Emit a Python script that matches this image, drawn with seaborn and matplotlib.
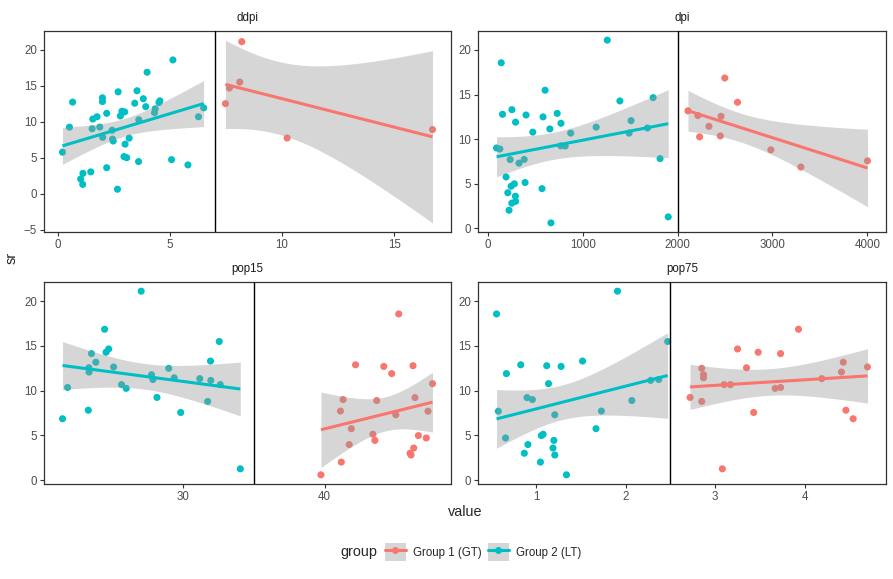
import math
import numpy as np
import pandas as pd
import matplotlib
matplotlib.use("Agg")
import matplotlib.pyplot as plt
import seaborn as sns
from matplotlib.patches import Rectangle
from matplotlib.lines import Line2D
from matplotlib.legend_handler import HandlerTuple

# ---------------- data (LifeCycleSavings) ----------------
sr = [11.43, 12.07, 13.17, 5.75, 12.88, 8.79, 0.60, 11.90, 4.98, 10.78,
      16.85, 3.59, 11.24, 12.64, 12.55, 10.67, 3.01, 7.70, 1.27, 9.00,
      11.34, 14.28, 21.10, 3.98, 10.35, 15.48, 10.25, 14.65, 10.67, 7.30,
      4.44, 2.02, 12.70, 12.78, 12.49, 11.14, 13.30, 11.77, 6.86, 14.13,
      5.13, 2.81, 7.81, 7.56, 9.22, 18.56, 7.72, 9.24, 8.89, 4.71]
pop15 = [29.35, 23.32, 23.80, 41.89, 42.19, 31.72, 39.74, 44.75, 46.64, 47.64,
         24.42, 46.31, 27.84, 25.06, 23.31, 25.62, 46.05, 47.32, 34.03, 41.31,
         31.16, 24.52, 27.01, 41.74, 21.80, 32.54, 25.95, 24.71, 32.61, 45.04,
         43.56, 41.18, 44.19, 46.26, 28.96, 31.94, 31.92, 27.74, 21.44, 23.49,
         43.42, 46.12, 23.27, 29.81, 46.40, 45.25, 41.12, 28.13, 43.69, 47.20]
pop75 = [2.87, 4.41, 4.43, 1.67, 0.83, 2.85, 1.34, 0.67, 1.06, 1.14,
         3.93, 1.19, 2.37, 4.70, 3.35, 3.10, 0.87, 0.58, 3.08, 0.96,
         4.19, 3.48, 1.91, 0.91, 3.73, 2.47, 3.67, 3.25, 3.17, 1.21,
         1.20, 1.05, 1.28, 1.12, 2.85, 2.28, 1.52, 2.87, 4.54, 3.73,
         1.08, 1.21, 4.46, 3.43, 0.90, 0.56, 1.73, 2.72, 2.07, 0.66]
dpi = [2329.68, 1507.99, 2108.47, 189.13, 728.47, 2982.88, 662.86, 289.52, 276.65, 471.24,
       2496.53, 287.77, 1681.25, 2213.82, 2457.12, 870.85, 289.71, 232.44, 1900.10, 88.94,
       1139.95, 1390.00, 1257.28, 207.68, 2449.39, 601.05, 2231.03, 1740.70, 1487.52, 325.54,
       568.56, 220.56, 400.06, 152.01, 579.51, 651.11, 250.96, 768.79, 3299.49, 2630.96,
       389.66, 249.87, 1813.93, 4001.89, 813.39, 138.33, 380.47, 766.54, 123.58, 242.69]
ddpi = [2.87, 3.93, 3.82, 0.22, 4.56, 2.43, 2.67, 6.51, 3.08, 2.80,
        3.99, 2.19, 4.32, 4.52, 3.44, 6.28, 1.48, 3.19, 1.12, 1.54,
        2.99, 3.54, 8.21, 5.81, 1.57, 8.12, 3.62, 7.66, 1.76, 2.48,
        3.61, 1.03, 0.67, 2.00, 7.48, 2.19, 2.00, 4.35, 3.01, 2.70,
        2.96, 1.13, 2.01, 2.45, 0.53, 5.14, 10.23, 1.88, 16.71, 5.08]

variables = ["ddpi", "dpi", "pop15", "pop75"]
thresholds = [7, 2000, 35, 2.5]
group_labels = ["Group 1 (GT)", "Group 2 (LT)"]
group_colors = ["#F8766D", "#00BFC4"]
x_ticks = {"ddpi": [0, 5, 10, 15], "dpi": [0, 1000, 2000, 3000, 4000],
           "pop15": [30, 40], "pop75": [1, 2, 3, 4]}
y_ticks = {"ddpi": [-5, 0, 5, 10, 15, 20], "dpi": [0, 5, 10, 15, 20],
           "pop15": [0, 5, 10, 15, 20], "pop75": [0, 5, 10, 15, 20]}

# ---------------- helpers ----------------
def t_quantile(p, df):
    def cdf(x):
        xs = np.linspace(0, x, 4001)
        c = math.exp(math.lgamma((df + 1) / 2) - math.lgamma(df / 2)) / math.sqrt(df * math.pi)
        pdf = c * (1 + xs ** 2 / df) ** (-(df + 1) / 2)
        return 0.5 + np.trapezoid(pdf, xs)
    lo, hi = 0.0, 30.0
    for _ in range(60):
        mid = (lo + hi) / 2
        if cdf(mid) < p:
            lo = mid
        else:
            hi = mid
    return (lo + hi) / 2


def lm_band(x, y, n=80):
    x = np.asarray(x, float)
    y = np.asarray(y, float)
    k = len(x)
    b1, b0 = np.polyfit(x, y, 1)
    resid = y - (b0 + b1 * x)
    s = math.sqrt(np.sum(resid ** 2) / (k - 2))
    xbar = x.mean()
    sxx = np.sum((x - xbar) ** 2)
    xs = np.linspace(x.min(), x.max(), n)
    fit = b0 + b1 * xs
    se = s * np.sqrt(1 / k + (xs - xbar) ** 2 / sxx)
    t = t_quantile(0.975, k - 2)
    return xs, fit, fit - t * se, fit + t * se


# ---------------- style ----------------
sns.set_style("white")
plt.rcParams["font.family"] = ["Liberation Sans", "DejaVu Sans"]

W, H = 893, 579
fig = plt.figure(figsize=(W / 100, H / 100), dpi=100)

panel_px = {  # left, top, right, bottom in pixels
    "ddpi": (44, 31, 451, 232),
    "dpi": (478, 31, 886, 232),
    "pop15": (44, 282, 451, 484),
    "pop75": (478, 282, 886, 484),
}

base = pd.DataFrame({"sr": sr, "pop15": pop15, "pop75": pop75, "dpi": dpi, "ddpi": ddpi})

for var, thr in zip(variables, thresholds):
    l, t, r, b = panel_px[var]
    ax = fig.add_axes([l / W, 1 - b / H, (r - l) / W, (b - t) / H])
    df = pd.DataFrame({"value": base[var], "sr": base["sr"]})
    df["group"] = np.where(df["value"] > thr, group_labels[0], group_labels[1])

    sns.scatterplot(data=df, x="value", y="sr", hue="group", hue_order=group_labels,
                    palette=group_colors, s=26, linewidth=0, legend=False, ax=ax, zorder=2)

    ymins, ymaxs = [df["sr"].min()], [df["sr"].max()]
    for g, c in zip(group_labels, group_colors):
        sub = df[df["group"] == g]
        xs, fit, lo, hi = lm_band(sub["value"], sub["sr"])
        ax.fill_between(xs, lo, hi, color="#999999", alpha=0.4, linewidth=0, zorder=3)
        ax.plot(xs, fit, color=c, lw=2.2, zorder=4, solid_capstyle="butt")
        ymins.append(lo.min())
        ymaxs.append(hi.max())

    ax.axvline(thr, color="black", lw=1.0, zorder=5)

    xmin, xmax = df["value"].min(), df["value"].max()
    xpad = (xmax - xmin) * 0.05
    ax.set_xlim(xmin - xpad, xmax + xpad)
    ymin, ymax = min(ymins), max(ymaxs)
    ypad = (ymax - ymin) * 0.05
    ax.set_ylim(ymin - ypad, ymax + ypad)

    ax.set_xticks(x_ticks[var])
    ax.set_yticks(y_ticks[var])
    ax.set_xlabel("")
    ax.set_ylabel("")
    ax.tick_params(axis="both", direction="out", length=3, width=0.8, color="#333333",
                   labelsize=8.3, labelcolor="#4D4D4D", pad=2,
                   bottom=True, left=True)
    for sp in ax.spines.values():
        sp.set_visible(True)
        sp.set_color("#333333")
        sp.set_linewidth(0.9)
    ax.set_title(var, fontsize=8.3, color="#1A1A1A", pad=7)

fig.text(465 / W, 1 - 512 / H, "value", ha="center", va="center", fontsize=10.4)
fig.text(12 / W, 1 - 258 / H, "sr", ha="center", va="center", rotation=90, fontsize=10.4)

# legend
fig.text(340 / W, 1 - 552 / H, "group", ha="left", va="center", fontsize=10.4)
handles = []
for c in group_colors:
    bg = Rectangle((0, 0), 1, 1, facecolor="#D6D6D6", edgecolor="none")
    ln = Line2D([], [], color=c, lw=2.2, marker="o", markersize=5, markeredgewidth=0)
    handles.append((bg, ln))
fig.legend(handles, group_labels, handler_map={tuple: HandlerTuple(ndivide=1, pad=0)},
           loc="center left", bbox_to_anchor=(385 / W, 1 - 552 / H), ncol=2,
           frameon=False, fontsize=8.3, handlelength=1.82, handleheight=1.9,
           columnspacing=0.55, handletextpad=0.6, borderaxespad=0, borderpad=0)

fig.savefig("out.png", dpi=100)
